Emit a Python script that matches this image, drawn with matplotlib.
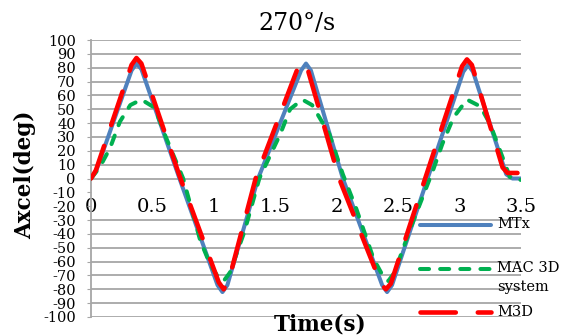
import matplotlib
matplotlib.use("Agg")
import matplotlib.pyplot as plt
from matplotlib.lines import Line2D

plt.rcParams['font.family'] = ['DejaVu Serif']
plt.rcParams['axes.unicode_minus'] = False

# values
t_mtx = [0, 0.04, 0.33, 0.37, 0.41, 0.72, 1.03, 1.07, 1.11, 1.36, 1.71, 1.75, 1.79,
         2.05, 2.37, 2.41, 2.45, 2.74, 3.03, 3.07, 3.11, 3.38, 3.43, 3.5]
mtx = [0, 5, 78, 83, 79, 0, -77, -82, -77, 0, 78, 83, 78,
       0, -77, -82, -77, 0, 77, 82, 77, 3, 0, 0]

t_mac = [0, 0.07, 0.155, 0.235, 0.32, 0.41, 0.52, 0.59, 0.75, 0.89, 0.97, 1.04, 1.08,
         1.13, 1.25, 1.37, 1.54, 1.62, 1.72, 1.8, 1.94, 2.05, 2.16, 2.3, 2.38, 2.42,
         2.47, 2.6, 2.78, 2.86, 2.95, 3.06, 3.17, 3.25, 3.33, 3.41, 3.45, 3.5]
mac = [0, 8, 22, 41, 53, 57, 51, 34, 0, -45, -62, -72, -74,
       -68, -38, 0, 32, 50, 57, 53, 32, 3, -22, -58, -71, -74,
       -68, -36, 5, 25, 44, 57, 52, 39, 20, 1, -1, -1]

t_m3d = [0, 0.04, 0.33, 0.37, 0.41, 0.72, 1.04, 1.08, 1.12, 1.34, 1.68, 1.72, 1.76,
         2.02, 2.36, 2.40, 2.44, 2.72, 3.02, 3.06, 3.10, 3.35, 3.39, 3.5]
m3d = [0, 6, 82, 87, 83, 2, -75, -80, -74, 0, 79, 84, 80,
       0, -76, -80, -76, 0, 81, 86, 82, 8, 4, 4]

series_names = ["MTx", "MAC 3D\nsystem", "M3D"]
x_ticks = [0, 0.5, 1, 1.5, 2, 2.5, 3, 3.5]
x_labels = ["0", "0.5", "1", "1.5", "2", "2.5", "3", "3.5"]
y_ticks = list(range(-100, 101, 10))

W, H = 562, 335
fig = plt.figure(figsize=(W / 100, H / 100), dpi=100)
ax = fig.add_axes([91 / W, 18 / H, 430 / W, 277 / H])

grid_c = '#A6A6A6'
for y in y_ticks:
    if y in (-10, -20):
        continue
    ax.axhline(y, color=grid_c, lw=1.3, zorder=1)

blue = dict(color='#4F81BD', lw=2.9, solid_capstyle='round', solid_joinstyle='round')
green = dict(color='#00B050', lw=2.9, dashes=(2.25, 2.75), dash_capstyle='round',
             dash_joinstyle='round')
red = dict(color='#FF0000', lw=3.3, dashes=(7.7, 4.8), dash_capstyle='round',
           dash_joinstyle='round')

ax.plot(t_mtx, mtx, zorder=3, **blue)
ax.plot(t_mac, mac, zorder=4, **green)
ax.plot(t_m3d, m3d, zorder=5, **red)

ax.set_xlim(0, 3.5)
ax.set_ylim(-100, 100)
ax.set_yticks(y_ticks)
ax.set_yticklabels([str(v) for v in y_ticks])
ax.set_xticks(x_ticks)
ax.set_xticklabels(x_labels)

for s in ['top', 'right']:
    ax.spines[s].set_visible(False)
ax.spines['bottom'].set_position(('data', 0))
ax.spines['bottom'].set_visible(False)
ax.spines['left'].set_color(grid_c)
ax.spines['left'].set_linewidth(1.3)
ax.tick_params(axis='y', length=3, color=grid_c, labelsize=10.5, pad=8)
ax.tick_params(axis='x', length=0, labelsize=14, pad=14)
ax.patch.set_visible(False)

fig.text(297 / W, 1 - 23 / H, '270°/s', ha='center', va='center', fontsize=17)
fig.text(320 / W, 1 - 330 / H, 'Time(s)', ha='center', va='baseline', fontsize=15.5,
         fontweight='bold')
fig.text(25 / W, 1 - 175 / H, 'Axcel(deg)', ha='center', va='center', rotation=90,
         fontsize=15.5, fontweight='bold')

# legend drawn by hand so that the handle sits on the first text line
leg_y = [225, 269, 312]
styles = [blue, green, red]
for name, yy, st in zip(series_names, leg_y, styles):
    fig.add_artist(Line2D([420 / W, 491 / W], [1 - yy / H] * 2,
                          transform=fig.transFigure, zorder=6, **st))
    fig.text(497 / W, 1 - (yy - 7.5) / H, name, ha='left', va='top', fontsize=10.5,
             linespacing=1.4)

fig.savefig('out.png', dpi=100)
